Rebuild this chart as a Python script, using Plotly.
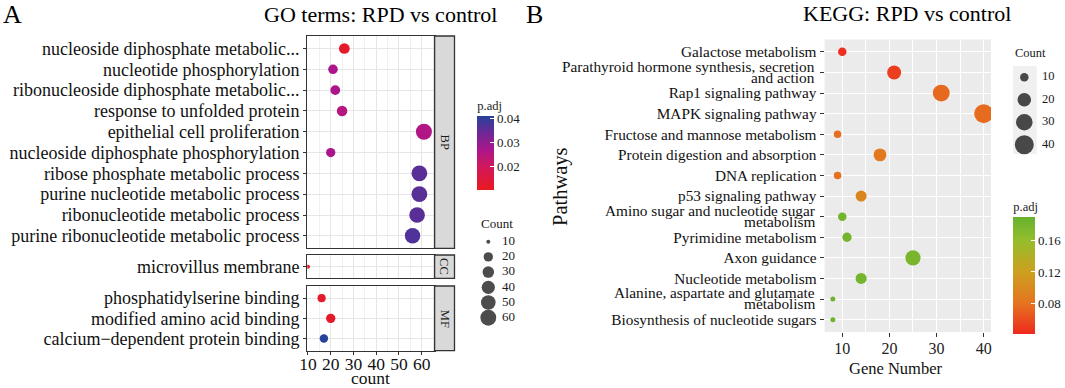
import numpy as np
import plotly.graph_objects as go

W, H = 1065, 388
FONT = "Liberation Serif"

# ---------------- data: GO ----------------
go_bp_terms = [
    "nucleoside diphosphate metabolic...",
    "nucleotide phosphorylation",
    "ribonucleoside diphosphate metabolic...",
    "response to unfolded protein",
    "epithelial cell proliferation",
    "nucleoside diphosphate phosphorylation",
    "ribose phosphate metabolic process",
    "purine nucleotide metabolic process",
    "ribonucleotide metabolic process",
    "purine ribonucleotide metabolic process",
]
go_bp_count = [26, 21, 22, 25, 61, 20, 59, 59, 58, 56]
go_bp_padj = [0.012, 0.027, 0.027, 0.025, 0.026, 0.027, 0.036, 0.036, 0.036, 0.037]

go_cc_terms = ["microvillus membrane"]
go_cc_count = [10]
go_cc_padj = [0.011]

go_mf_terms = [
    "phosphatidylserine binding",
    "modified amino acid binding",
    "calcium\u2212dependent protein binding",
]
go_mf_count = [16, 20, 17]
go_mf_padj = [0.012, 0.012, 0.041]

go_x_ticks = [10, 20, 30, 40, 50, 60]
go_count_breaks = [10, 20, 30, 40, 50, 60]
go_padj_ticks = [0.02, 0.03, 0.04]

# ---------------- data: KEGG ----------------
kegg_terms = [
    "Galactose metabolism",
    "Parathyroid hormone synthesis, secretion\nand action",
    "Rap1 signaling pathway",
    "MAPK signaling pathway",
    "Fructose and mannose metabolism",
    "Protein digestion and absorption",
    "DNA replication",
    "p53 signaling pathway",
    "Amino sugar and nucleotide sugar\nmetabolism",
    "Pyrimidine metabolism",
    "Axon guidance",
    "Nucleotide metabolism",
    "Alanine, aspartate and glutamate\nmetabolism",
    "Biosynthesis of nucleotide sugars",
]
kegg_count = [10, 21, 31, 40, 9, 18, 9, 14, 10, 11, 25, 14, 8, 8]
kegg_padj = [0.044, 0.052, 0.075, 0.076, 0.078, 0.085, 0.079, 0.096,
             0.181, 0.180, 0.177, 0.180, 0.183, 0.183]
kegg_x_ticks = [10, 20, 30, 40]
kegg_count_breaks = [10, 20, 30, 40]
kegg_padj_ticks = [0.08, 0.12, 0.16]


# ---------------- helpers (layout only) ----------------
def fx(p):
    return p / W


def fy(p):
    return 1 - p / H


def go_size(c):
    c = np.asarray(c, dtype=float)
    lo, hi = 10, 61
    return 4 + 12 * np.sqrt(np.clip((c - lo) / (hi - lo), 0, 1))


def kegg_size(c):
    c = np.asarray(c, dtype=float)
    lo, hi = 8, 40
    return 5 + 14 * np.sqrt(np.clip((c - lo) / (hi - lo), 0, 1))


go_scale = [
    [0.0, "#E8191E"],
    [0.3, "#D3185A"],
    [0.55, "#AA168C"],
    [0.75, "#742594"],
    [1.0, "#26429C"],
]
kegg_scale = [
    [0.0, "#EE2A1E"],
    [0.26, "#E5731F"],
    [0.53, "#CDA01F"],
    [0.8, "#95BD2C"],
    [1.0, "#67B22E"],
]

fig = go.Figure()

# GO panels
for xa, ya, cnt, terms, padj in [
    ("x", "y", go_bp_count, go_bp_terms, go_bp_padj),
    ("x2", "y2", go_cc_count, go_cc_terms, go_cc_padj),
    ("x3", "y3", go_mf_count, go_mf_terms, go_mf_padj),
]:
    fig.add_trace(go.Scatter(
        x=cnt, y=terms, xaxis=xa, yaxis=ya, mode="markers",
        marker=dict(size=go_size(cnt), color=padj, coloraxis="coloraxis",
                    line=dict(width=0), opacity=1),
        showlegend=False, hoverinfo="x+y",
    ))

# KEGG panel
fig.add_trace(go.Scatter(
    x=kegg_count, y=kegg_terms, xaxis="x4", yaxis="y4", mode="markers",
    marker=dict(size=kegg_size(kegg_count), color=kegg_padj, coloraxis="coloraxis2",
                line=dict(width=0), opacity=1),
    showlegend=False,
))

# Size legends (GO)
go_leg_lab = [str(v) for v in go_count_breaks]
fig.add_trace(go.Scatter(
    x=[10.3] * len(go_count_breaks), y=go_leg_lab, xaxis="x5", yaxis="y5", mode="markers",
    marker=dict(size=go_size(go_count_breaks), color="black", line=dict(width=0)),
    showlegend=False, hoverinfo="skip", cliponaxis=False,
))
fig.add_trace(go.Scatter(
    x=[24] * len(go_count_breaks), y=go_leg_lab, xaxis="x5", yaxis="y5", mode="text",
    text=go_leg_lab, textposition="middle right",
    textfont=dict(family=FONT, size=13, color="#1a1a1a"),
    showlegend=False, hoverinfo="skip", cliponaxis=False,
))
# Size legends (KEGG)
kg_leg_lab = [str(v) for v in kegg_count_breaks]
fig.add_trace(go.Scatter(
    x=[11.3] * len(kegg_count_breaks), y=kg_leg_lab, xaxis="x6", yaxis="y6", mode="markers",
    marker=dict(size=kegg_size(kegg_count_breaks), color="black", line=dict(width=0)),
    showlegend=False, hoverinfo="skip", cliponaxis=False,
))
fig.add_trace(go.Scatter(
    x=[29] * len(kegg_count_breaks), y=kg_leg_lab, xaxis="x6", yaxis="y6", mode="text",
    text=kg_leg_lab, textposition="middle right",
    textfont=dict(family=FONT, size=12.5, color="#1a1a1a"),
    showlegend=False, hoverinfo="skip", cliponaxis=False,
))

GO_X_RANGE = [9.7, 65.7]
go_left, go_right = 307.3, 434.6
GRID = "#E6E6E6"
MINOR = "#F0F0F0"


def go_xaxis(anchor, labels):
    d = dict(
        domain=[fx(go_left), fx(go_right)], range=GO_X_RANGE, anchor=anchor,
        tickvals=go_x_ticks, showgrid=True, gridcolor=GRID, gridwidth=1.2,
        minor=dict(tickvals=[15, 25, 35, 45, 55, 65], showgrid=True, gridcolor=MINOR, gridwidth=0.8),
        showline=True, mirror=True, linecolor="#333333", linewidth=1.3, zeroline=False,
        fixedrange=True, automargin=False,
    )
    if labels:
        d.update(ticks="outside", ticklen=3, tickcolor="#333333", tickwidth=1,
                 ticklabelstandoff=-6,
                 tickfont=dict(family=FONT, size=17.5, color="#111111"))
    else:
        d.update(showticklabels=False, ticks="")
    return d


def go_yaxis(anchor, terms, top, bottom):
    n = len(terms)
    return dict(
        domain=[fy(bottom), fy(top)], type="category", categoryarray=terms,
        tickmode="array", tickvals=terms, ticktext=terms,
        range=[n - 0.4, -0.6], anchor=anchor, ticks="outside", ticklen=3,
        tickcolor="#333333", tickfont=dict(family=FONT, size=18, color="#111111"),
        showline=True, mirror=True, linecolor="#333333", linewidth=1.3,
        showgrid=True, gridcolor=GRID, gridwidth=1.2, zeroline=False, fixedrange=True,
        automargin=False,
    )


kegg_left, kegg_right, kegg_top, kegg_bottom = 824.6, 991.0, 39.5, 332.0
n_k = len(kegg_terms)
TITLE_PAD = 17  # space plotly reserves for the colorbar title
KFS = 15.3

fig.update_layout(
    width=W, height=H, autosize=False,
    margin=dict(l=0, r=0, t=0, b=0, pad=0, autoexpand=False),
    paper_bgcolor="white", plot_bgcolor="rgba(0,0,0,0)",
    font=dict(family=FONT, color="#111111"),
    xaxis=go_xaxis("y", False),
    xaxis2=go_xaxis("y2", False),
    xaxis3=go_xaxis("y3", True),
    yaxis=go_yaxis("x", go_bp_terms, 36.0, 248.3),
    yaxis2=go_yaxis("x2", go_cc_terms, 255.0, 278.3),
    yaxis3=go_yaxis("x3", go_mf_terms, 286.0, 350.7),
    xaxis4=dict(
        domain=[fx(kegg_left), fx(kegg_right)], range=[6.25, 41.55], anchor="y4",
        tickvals=kegg_x_ticks, ticks="outside", ticklen=4, tickcolor="#333333",
        ticklabelstandoff=-2,
        tickfont=dict(family=FONT, size=16, color="#222222"),
        showgrid=True, gridcolor="white", gridwidth=1.2,
        minor=dict(tickvals=[15, 25, 35], showgrid=True, gridcolor="white", gridwidth=0.6),
        showline=False, zeroline=False, fixedrange=True, automargin=False,
    ),
    yaxis4=dict(
        domain=[fy(kegg_bottom), fy(kegg_top)], type="category", categoryarray=kegg_terms,
        tickmode="array", tickvals=kegg_terms,
        ticktext=[t if "\n" not in t else "" for t in kegg_terms],
        range=[n_k - 0.4, -0.6], anchor="x4", ticks="outside", ticklen=4,
        tickcolor="#333333", tickfont=dict(family=FONT, size=KFS, color="#111111"),
        showgrid=True, gridcolor="white", gridwidth=1.2, showline=False,
        zeroline=False, fixedrange=True, automargin=False,
    ),
    # legend axes
    xaxis5=dict(domain=[fx(478), fx(530)], range=[0, 52], anchor="y5", visible=False, fixedrange=True),
    yaxis5=dict(domain=[fy(325.3), fy(234.1)], type="category", categoryarray=go_leg_lab,
                range=[len(go_leg_lab) - 0.5, -0.5], anchor="x5", visible=False, fixedrange=True),
    xaxis6=dict(domain=[fx(1013), fx(1063)], range=[0, 50], anchor="y6", visible=False, fixedrange=True),
    yaxis6=dict(domain=[fy(156), fy(66)], type="category", categoryarray=kg_leg_lab,
                range=[len(kg_leg_lab) - 0.5, -0.5], anchor="x6", visible=False, fixedrange=True),
    coloraxis=dict(
        cmin=0.0103, cmax=0.041, colorscale=go_scale,
        colorbar=dict(
            x=fx(477.3), xanchor="left", xpad=0, y=fy(190.2), yanchor="bottom", ypad=0,
            len=76 + TITLE_PAD, lenmode="pixels", thickness=17, thicknessmode="pixels",
            outlinewidth=0, tickvals=go_padj_ticks, ticktext=["0.02", "0.03", "0.04"],
            ticks="inside", ticklen=4, tickcolor="white", tickwidth=1,
            tickfont=dict(family=FONT, size=13, color="#1a1a1a"),
            title=dict(text="p.adj", side="top", font=dict(family=FONT, size=12.5, color="#1a1a1a")),
        ),
    ),
    coloraxis2=dict(
        cmin=0.042, cmax=0.1886, colorscale=kegg_scale,
        colorbar=dict(
            x=fx(1013.3), xanchor="left", xpad=0, y=fy(334.2), yanchor="bottom", ypad=0,
            len=115 + TITLE_PAD + 4, lenmode="pixels", thickness=21.7, thicknessmode="pixels",
            outlinewidth=0, tickvals=kegg_padj_ticks, ticktext=["0.08", "0.12", "0.16"],
            ticks="inside", ticklen=4, tickcolor="white", tickwidth=1,
            tickfont=dict(family=FONT, size=13, color="#1a1a1a"),
            title=dict(text="p.adj", side="top", font=dict(family=FONT, size=12.5, color="#1a1a1a")),
        ),
    ),
)

shapes = []
# KEGG grey panel
shapes.append(dict(type="rect", xref="x4 domain", yref="y4 domain", x0=0, x1=1, y0=0, y1=1,
                   fillcolor="#EBEBEB", line=dict(width=0), layer="below"))
# KEGG legend key background
shapes.append(dict(type="rect", xref="paper", yref="paper", x0=fx(1013), x1=fx(1036.7),
                   y0=fy(154), y1=fy(66), fillcolor="#F0F0F0", line=dict(width=0), layer="below"))
# GO strips
strip_l, strip_r = 434.6, 454.5
for top, bottom, lab in [(36.0, 248.3, "BP"), (255.0, 278.3, "CC"), (286.0, 350.7, "MF")]:
    shapes.append(dict(type="rect", xref="paper", yref="paper", x0=fx(strip_l), x1=fx(strip_r),
                       y0=fy(bottom), y1=fy(top), fillcolor="#D9D9D9",
                       line=dict(color="#333333", width=1.3), layer="above"))
fig.update_layout(shapes=shapes)

ann = []
for top, bottom, lab in [(36.0, 248.3, "BP"), (255.0, 278.3, "CC"), (286.0, 350.7, "MF")]:
    ann.append(dict(x=fx((strip_l + strip_r) / 2), y=fy((top + bottom) / 2), xref="paper", yref="paper",
                    text=lab, textangle=90, showarrow=False, font=dict(family=FONT, size=12.5, color="#1a1a1a"),
                    xanchor="center", yanchor="middle"))

# two-line KEGG tick labels
for t in kegg_terms:
    if "\n" in t:
        l1, l2 = t.split("\n")
        for line, shift in [(l1, 6.3), (l2, -4.8)]:
            ann.append(dict(x=fx(817), y=t, xref="paper", yref="y4", text=line, showarrow=False,
                            xanchor="right", yanchor="middle", yshift=shift,
                            font=dict(family=FONT, size=KFS, color="#111111")))

ann += [
    dict(x=fx(12), y=fy(15), text="A", font=dict(family=FONT, size=26, color="black")),
    dict(x=fx(534), y=fy(15), text="B", font=dict(family=FONT, size=26, color="black")),
    dict(x=fx(380), y=fy(15), text="GO terms: RPD vs control", font=dict(family=FONT, size=22, color="black")),
    dict(x=fx(907), y=fy(14), text="KEGG: RPD vs control", font=dict(family=FONT, size=22, color="black")),
    dict(x=fx(560), y=fy(187), text="Pathways", textangle=-90, font=dict(family=FONT, size=20.5, color="#111111")),
    dict(x=fx(370), y=fy(378.3), text="count", font=dict(family=FONT, size=17.5, color="#111111")),
    dict(x=fx(896), y=fy(368), text="Gene Number", font=dict(family=FONT, size=16.5, color="#111111")),
    dict(x=fx(479), y=fy(224), text="Count", xanchor="left", font=dict(family=FONT, size=13, color="#1a1a1a")),
    dict(x=fx(1013), y=fy(52.7), text="Count", xanchor="left", font=dict(family=FONT, size=12.5, color="#1a1a1a")),
]
for a in ann:
    a.setdefault("xref", "paper")
    a.setdefault("yref", "paper")
    a.setdefault("showarrow", False)
    a.setdefault("xanchor", "center")
    a.setdefault("yanchor", "middle")
fig.update_layout(annotations=ann)

fig.write_html("out.html", config={"displayModeBar": False},
               post_script="document.body.style.margin='0';document.body.style.padding='0';")
